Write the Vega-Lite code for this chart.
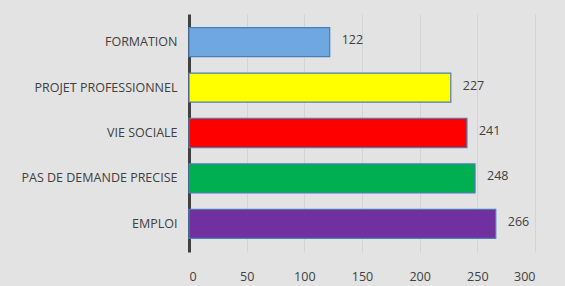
{
  "$schema": "https://vega.github.io/schema/vega-lite/v6.json",
  "width": 346,
  "height": 238,
  "padding": {"left": 189, "top": 14, "right": 30, "bottom": 34},
  "autosize": {"type": "none"},
  "background": "#e3e3e3",
  "data": {"values": [
    {"cat": "FORMATION", "n": 122, "color": "#6fa8e0"},
    {"cat": "PROJET PROFESSIONNEL", "n": 227, "color": "#ffff00"},
    {"cat": "VIE SOCIALE", "n": 241, "color": "#ff0000"},
    {"cat": "PAS DE DEMANDE PRECISE", "n": 248, "color": "#00b050"},
    {"cat": "EMPLOI", "n": 266, "color": "#7030a0"}
  ]},
  "encoding": {
    "y": {"field": "cat", "type": "nominal", "sort": null,
      "scale": {"paddingInner": 0.36, "paddingOuter": 0.3},
      "axis": {"title": null, "domainColor": "#404040", "domainWidth": 3, "ticks": false,
        "labelFont": "Open Sans", "labelFontSize": 12.5, "labelColor": "#404040", "labelPadding": 12, "grid": false, "labelLimit": 200}},
    "x": {"field": "n", "type": "quantitative",
      "scale": {"domain": [0, 300]},
      "axis": {"title": null, "values": [0, 50, 100, 150, 200, 250, 300], "domain": false, "ticks": false,
        "grid": true, "gridColor": "#d4d4d4", "labelFont": "Open Sans", "labelFontSize": 12.5, "labelColor": "#404040", "labelPadding": 18}}
  },
  "layer": [
    {"mark": {"type": "bar", "stroke": "#4a7ebb", "strokeWidth": 1.2},
     "encoding": {"color": {"field": "color", "type": "nominal", "scale": null}}},
    {"mark": {"type": "text", "align": "left", "dx": 12, "dy": -2, "font": "Open Sans", "fontSize": 12.5, "color": "#404040"},
     "encoding": {"text": {"field": "n", "type": "quantitative"}}}
  ],
  "config": {"view": {"stroke": null}}
}
